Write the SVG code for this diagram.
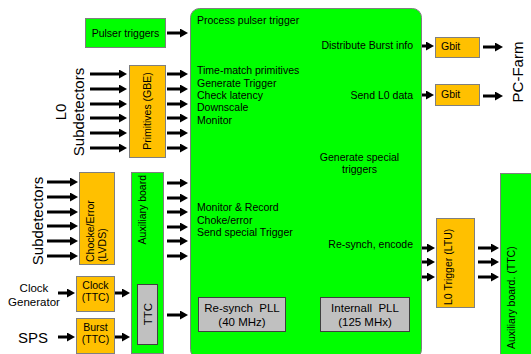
<svg xmlns="http://www.w3.org/2000/svg" width="531" height="354" viewBox="0 0 531 354">
<defs>
<marker id="ah" markerUnits="userSpaceOnUse" markerWidth="8" markerHeight="9" refX="2" refY="4.5" orient="auto">
<path d="M0,0 L8,4.5 L0,9 z" fill="#000"/>
</marker>
<style>
text{font-family:"Liberation Sans",Arial,sans-serif;fill:#000}
.s{font-size:10.5px}
.m{font-size:11.5px}
.b{font-size:15px}
.g{fill:#00FF00;stroke:#7F7F7F;stroke-width:1}
.o{fill:#FFC000;stroke:#7F7F7F;stroke-width:1}
.y{fill:#C0C0C0;stroke:#404040;stroke-width:1}
.c line{stroke:#000;stroke-width:3;marker-end:url(#ah)}
</style>
</defs>
<rect width="531" height="354" fill="#fff"/>

<g id="main">
<rect class="g" x="190.5" y="8.5" width="231" height="350" rx="9"/>
<text class="s" x="197" y="24">Process pulser trigger</text>
<text class="s" x="197" y="74">Time-match primitives</text>
<text class="s" x="197" y="86.5">Generate Trigger</text>
<text class="s" x="197" y="99">Check latency</text>
<text class="s" x="197" y="111">Downscale</text>
<text class="s" x="197" y="123.5">Monitor</text>
<text class="s" x="413" y="49" text-anchor="end">Distribute Burst info</text>
<text class="s" x="413" y="99" text-anchor="end">Send L0 data</text>
<text class="s" x="359.5" y="161" text-anchor="middle">Generate special</text>
<text class="s" x="359.5" y="173" text-anchor="middle">triggers</text>
<text class="s" x="197" y="211">Monitor &amp; Record</text>
<text class="s" x="197" y="223.5">Choke/error</text>
<text class="s" x="197" y="236">Send special Trigger</text>
<text class="s" x="413" y="248" text-anchor="end">Re-synch, encode</text>
</g>

<g id="resynch-pll">
<rect class="y" x="198.5" y="297.5" width="87" height="34"/>
<text class="m" x="242" y="312" text-anchor="middle" xml:space="preserve">Re-synch  PLL</text>
<text class="m" x="242" y="326" text-anchor="middle">(40 MHz)</text>
</g>

<g id="internal-pll">
<rect class="y" x="320.5" y="297.5" width="89" height="34"/>
<text class="m" x="365" y="312" text-anchor="middle" xml:space="preserve">Internall  PLL</text>
<text class="m" x="365" y="326" text-anchor="middle">(125 MHx)</text>
</g>

<g id="pulser">
<rect class="g" x="85.5" y="18.5" width="80" height="29"/>
<text class="s" x="125.5" y="37" text-anchor="middle">Pulser triggers</text>
</g>

<g id="l0-subdetectors">
<text class="b" transform="rotate(-90 66 112)" x="66" y="112" text-anchor="middle">L0</text>
<text class="b" transform="rotate(-90 84 112)" x="84" y="112" text-anchor="middle">Subdetectors</text>
</g>

<g id="primitives">
<rect class="o" x="129.5" y="65.5" width="36" height="92"/>
<text class="s" transform="rotate(-90 151 111)" x="151" y="111" text-anchor="middle">Primitives (GBE)</text>
</g>

<g id="subdetectors">
<text class="b" transform="rotate(-90 43 221)" x="43" y="221" text-anchor="middle">Subdetectors</text>
</g>

<g id="chocke">
<rect class="o" x="79.5" y="172.5" width="35" height="92"/>
<text class="s" transform="rotate(-90 94 262)" x="94" y="262">Chocke/Error</text>
<text class="s" transform="rotate(-90 106 262)" x="106" y="262">(LVDS)</text>
</g>

<g id="aux-left">
<rect class="g" x="131.5" y="172.5" width="32" height="181"/>
<text class="s" transform="rotate(-90 146 175)" x="146" y="175" text-anchor="end">Auxiliary board</text>
</g>

<g id="ttc">
<rect class="y" x="137.5" y="284.5" width="20" height="60"/>
<text class="m" transform="rotate(-90 151.5 314)" x="151.5" y="314" text-anchor="middle">TTC</text>
</g>

<g id="clock-gen">
<text class="m" x="34" y="292" text-anchor="middle">Clock</text>
<text class="m" x="34" y="306" text-anchor="middle">Generator</text>
</g>

<g id="sps">
<text class="b" x="33" y="342.5" text-anchor="middle">SPS</text>
</g>

<g id="clock">
<rect class="o" x="76.5" y="276.5" width="38" height="35"/>
<text class="s" x="95.5" y="289" text-anchor="middle">Clock</text>
<text class="s" x="95.5" y="301" text-anchor="middle">(TTC)</text>
</g>

<g id="burst">
<rect class="o" x="76.5" y="318.5" width="38" height="35"/>
<text class="s" x="95.5" y="331" text-anchor="middle">Burst</text>
<text class="s" x="95.5" y="343" text-anchor="middle">(TTC)</text>
</g>

<g id="gbit1">
<rect class="o" x="435.5" y="37.5" width="44" height="20"/>
<text class="s" x="441" y="50">Gbit</text>
</g>

<g id="gbit2">
<rect class="o" x="435.5" y="84.5" width="44" height="21"/>
<text class="s" x="441" y="98">Gbit</text>
</g>

<g id="pc-farm">
<text class="b" transform="rotate(-90 523 72)" x="523" y="72" text-anchor="middle">PC-Farm</text>
</g>

<g id="ltu">
<rect class="o" x="436.5" y="218.5" width="38" height="89"/>
<text class="s" transform="rotate(-90 451.5 305)" x="451.5" y="305">L0 Trigger (LTU)</text>
</g>

<g id="aux-right">
<rect class="g" x="500.5" y="173.5" width="35" height="185"/>
<text class="s" transform="rotate(-90 515 349)" x="515" y="349">Auxiliary board. (TTC)</text>
</g>

<g id="connectors" class="c">
<line x1="167" y1="33" x2="182" y2="33"/>
<line x1="90" y1="74" x2="121" y2="74"/>
<line x1="90" y1="89" x2="121" y2="89"/>
<line x1="90" y1="104" x2="121" y2="104"/>
<line x1="90" y1="118" x2="121" y2="118"/>
<line x1="90" y1="133" x2="121" y2="133"/>
<line x1="90" y1="148" x2="121" y2="148"/>
<line x1="167" y1="74" x2="182" y2="74"/>
<line x1="167" y1="89" x2="182" y2="89"/>
<line x1="167" y1="104" x2="182" y2="104"/>
<line x1="167" y1="118" x2="182" y2="118"/>
<line x1="167" y1="133" x2="182" y2="133"/>
<line x1="167" y1="148" x2="182" y2="148"/>
<line x1="47" y1="182" x2="72" y2="182"/>
<line x1="47" y1="197" x2="72" y2="197"/>
<line x1="47" y1="212" x2="72" y2="212"/>
<line x1="47" y1="226" x2="72" y2="226"/>
<line x1="47" y1="241" x2="72" y2="241"/>
<line x1="47" y1="256" x2="72" y2="256"/>
<line x1="167" y1="183" x2="182" y2="183"/>
<line x1="167" y1="198" x2="182" y2="198"/>
<line x1="167" y1="212" x2="182" y2="212"/>
<line x1="167" y1="227" x2="182" y2="227"/>
<line x1="167" y1="241" x2="182" y2="241"/>
<line x1="167" y1="256" x2="182" y2="256"/>
<line x1="167" y1="315" x2="182" y2="315"/>
<line x1="58" y1="293" x2="69" y2="293"/>
<line x1="58" y1="337" x2="69" y2="337"/>
<line x1="115" y1="293" x2="124" y2="293"/>
<line x1="115" y1="337" x2="124" y2="337"/>
<line x1="422" y1="46" x2="428" y2="46"/>
<line x1="422" y1="95" x2="428" y2="95"/>
<line x1="483" y1="47" x2="497" y2="47"/>
<line x1="483" y1="96" x2="497" y2="96"/>
<line x1="422" y1="248" x2="429" y2="248"/>
<line x1="422" y1="262" x2="429" y2="262"/>
<line x1="422" y1="277" x2="429" y2="277"/>
<line x1="478" y1="248" x2="493" y2="248"/>
<line x1="478" y1="262" x2="493" y2="262"/>
<line x1="478" y1="277" x2="493" y2="277"/>
</g>
</svg>
